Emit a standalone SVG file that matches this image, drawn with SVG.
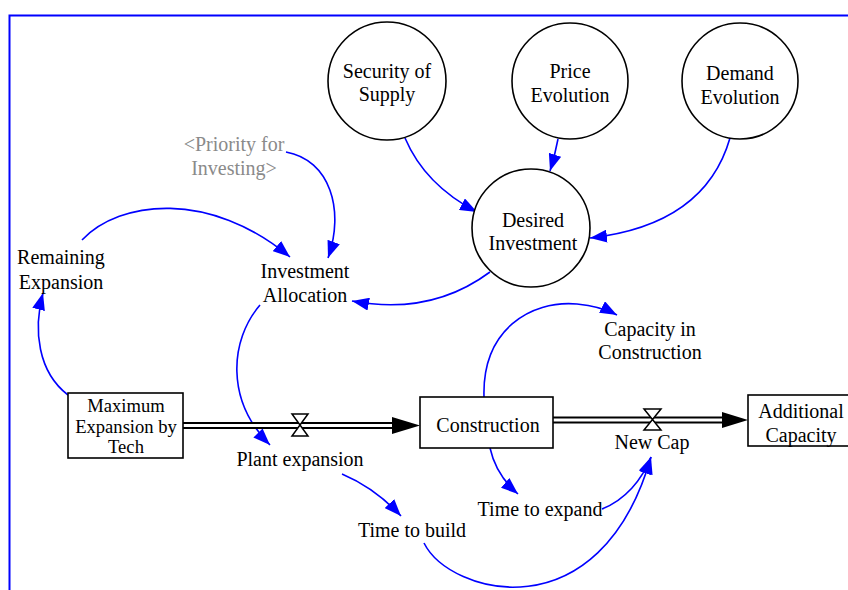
<svg xmlns="http://www.w3.org/2000/svg" width="848" height="590" viewBox="0 0 848 590" font-family="'Liberation Serif', 'DejaVu Serif', 'Times New Roman', serif">
<style>
text{font-family:"Liberation Serif","DejaVu Serif","Times New Roman",serif;font-size:20px;fill:#000;text-anchor:middle}
.gray{fill:#8a8a8a}
.small{font-size:18.6px}
.aux circle{fill:#fff;stroke:#000;stroke-width:1.6}
.stock rect{fill:#fff;stroke:#000;stroke-width:1.6}
.link{fill:none;stroke:#0000ff;stroke-width:1.6;marker-end:url(#ah)}
.pipeO{stroke:#000;stroke-width:7;fill:none}
.pipeI{stroke:#fff;stroke-width:3;fill:none}
.valve{fill:#fff;stroke:#000;stroke-width:1.5}
</style>
<defs>
<marker id="ah" markerUnits="userSpaceOnUse" markerWidth="17" markerHeight="13" refX="17" refY="6.5" orient="auto">
<path d="M0,0 L17,6.5 L0,13 z" fill="#0000ff"/>
</marker>
</defs>
<rect x="9.5" y="15.5" width="900" height="700" fill="none" stroke="#0000ff" stroke-width="2"/>

<g id="connectors">
<path class="link" d="M405,138 Q425,185 477,212"/>
<path class="link" d="M558,139 Q555,155 550,171"/>
<path class="link" d="M730,138 Q705,225 590,238"/>
<path class="link" d="M490,272 C455,298 410,312 352,301"/>
<path class="link" d="M286,152 C330,160 345,210 328,258"/>
<path class="link" d="M82,240 C120,200 210,190 290,257"/>
<path class="link" d="M68,395 C38,372 33,330 43,293"/>
<path class="link" d="M260,305 C230,340 225,400 270,445"/>
<path class="link" d="M342,474 Q375,488 401,516"/>
<path class="link" d="M490,448 Q496,475 518,494"/>
<path class="link" d="M484,397 C482,330 530,300 577,304 Q600,306 617,315"/>
<path class="link" d="M602,509 C625,500 642,480 651,457"/>
<path class="link" d="M424,543 C450,595 600,635 651,457"/>
</g>

<g id="flow-plant-expansion">
<path class="pipeO" d="M183,425.5 L394,425.5"/>
<path class="pipeI" d="M183,425.5 L395,425.5"/>
<path d="M392,417 L420,425.5 L392,434 z" fill="#000"/>
<path class="valve" d="M292,414 L308,414 L292,436 L308,436 z"/>
<text x="300" y="466">Plant expansion</text>
</g>

<g id="flow-new-cap">
<path class="pipeO" d="M553,420 L724,420"/>
<path class="pipeI" d="M553,420 L725,420"/>
<path d="M722,412 L748,420 L722,428 z" fill="#000"/>
<path class="valve" d="M644,409 L661,409 L644,430 L661,430 z"/>
<text x="652" y="449">New Cap</text>
</g>

<g id="security-of-supply" class="aux">
<circle cx="387" cy="81" r="59"/>
<text x="387" y="78">Security of</text>
<text x="387" y="101">Supply</text>
</g>
<g id="price-evolution" class="aux">
<circle cx="570" cy="81" r="58"/>
<text x="570" y="78">Price</text>
<text x="570" y="102">Evolution</text>
</g>
<g id="demand-evolution" class="aux">
<circle cx="740" cy="81" r="58"/>
<text x="740" y="80">Demand</text>
<text x="740" y="104">Evolution</text>
</g>
<g id="desired-investment" class="aux">
<circle cx="531" cy="228" r="59"/>
<text x="533" y="227">Desired</text>
<text x="533" y="250">Investment</text>
</g>

<g id="priority-for-investing">
<text class="gray" x="234" y="151">&lt;Priority for</text>
<text class="gray" x="234" y="175">Investing&gt;</text>
</g>
<g id="investment-allocation">
<text x="305" y="278">Investment</text>
<text x="305" y="302">Allocation</text>
</g>
<g id="remaining-expansion">
<text x="61" y="264">Remaining</text>
<text x="61" y="289">Expansion</text>
</g>
<g id="capacity-in-construction">
<text x="650" y="336">Capacity in</text>
<text x="650" y="359">Construction</text>
</g>
<g id="time-to-build">
<text x="412" y="537">Time to build</text>
</g>
<g id="time-to-expand">
<text x="540" y="516">Time to expand</text>
</g>

<g id="maximum-expansion-by-tech" class="stock">
<rect x="68" y="393" width="115" height="65"/>
<text class="small" x="126" y="412">Maximum</text>
<text class="small" x="126" y="433">Expansion by</text>
<text class="small" x="126" y="453">Tech</text>
</g>
<g id="construction" class="stock">
<rect x="420" y="397" width="133" height="51"/>
<text x="488" y="432">Construction</text>
</g>
<g id="additional-capacity" class="stock">
<rect x="748" y="395" width="120" height="51"/>
<text x="801" y="418">Additional</text>
<text x="801" y="442">Capacity</text>
</g>
</svg>
